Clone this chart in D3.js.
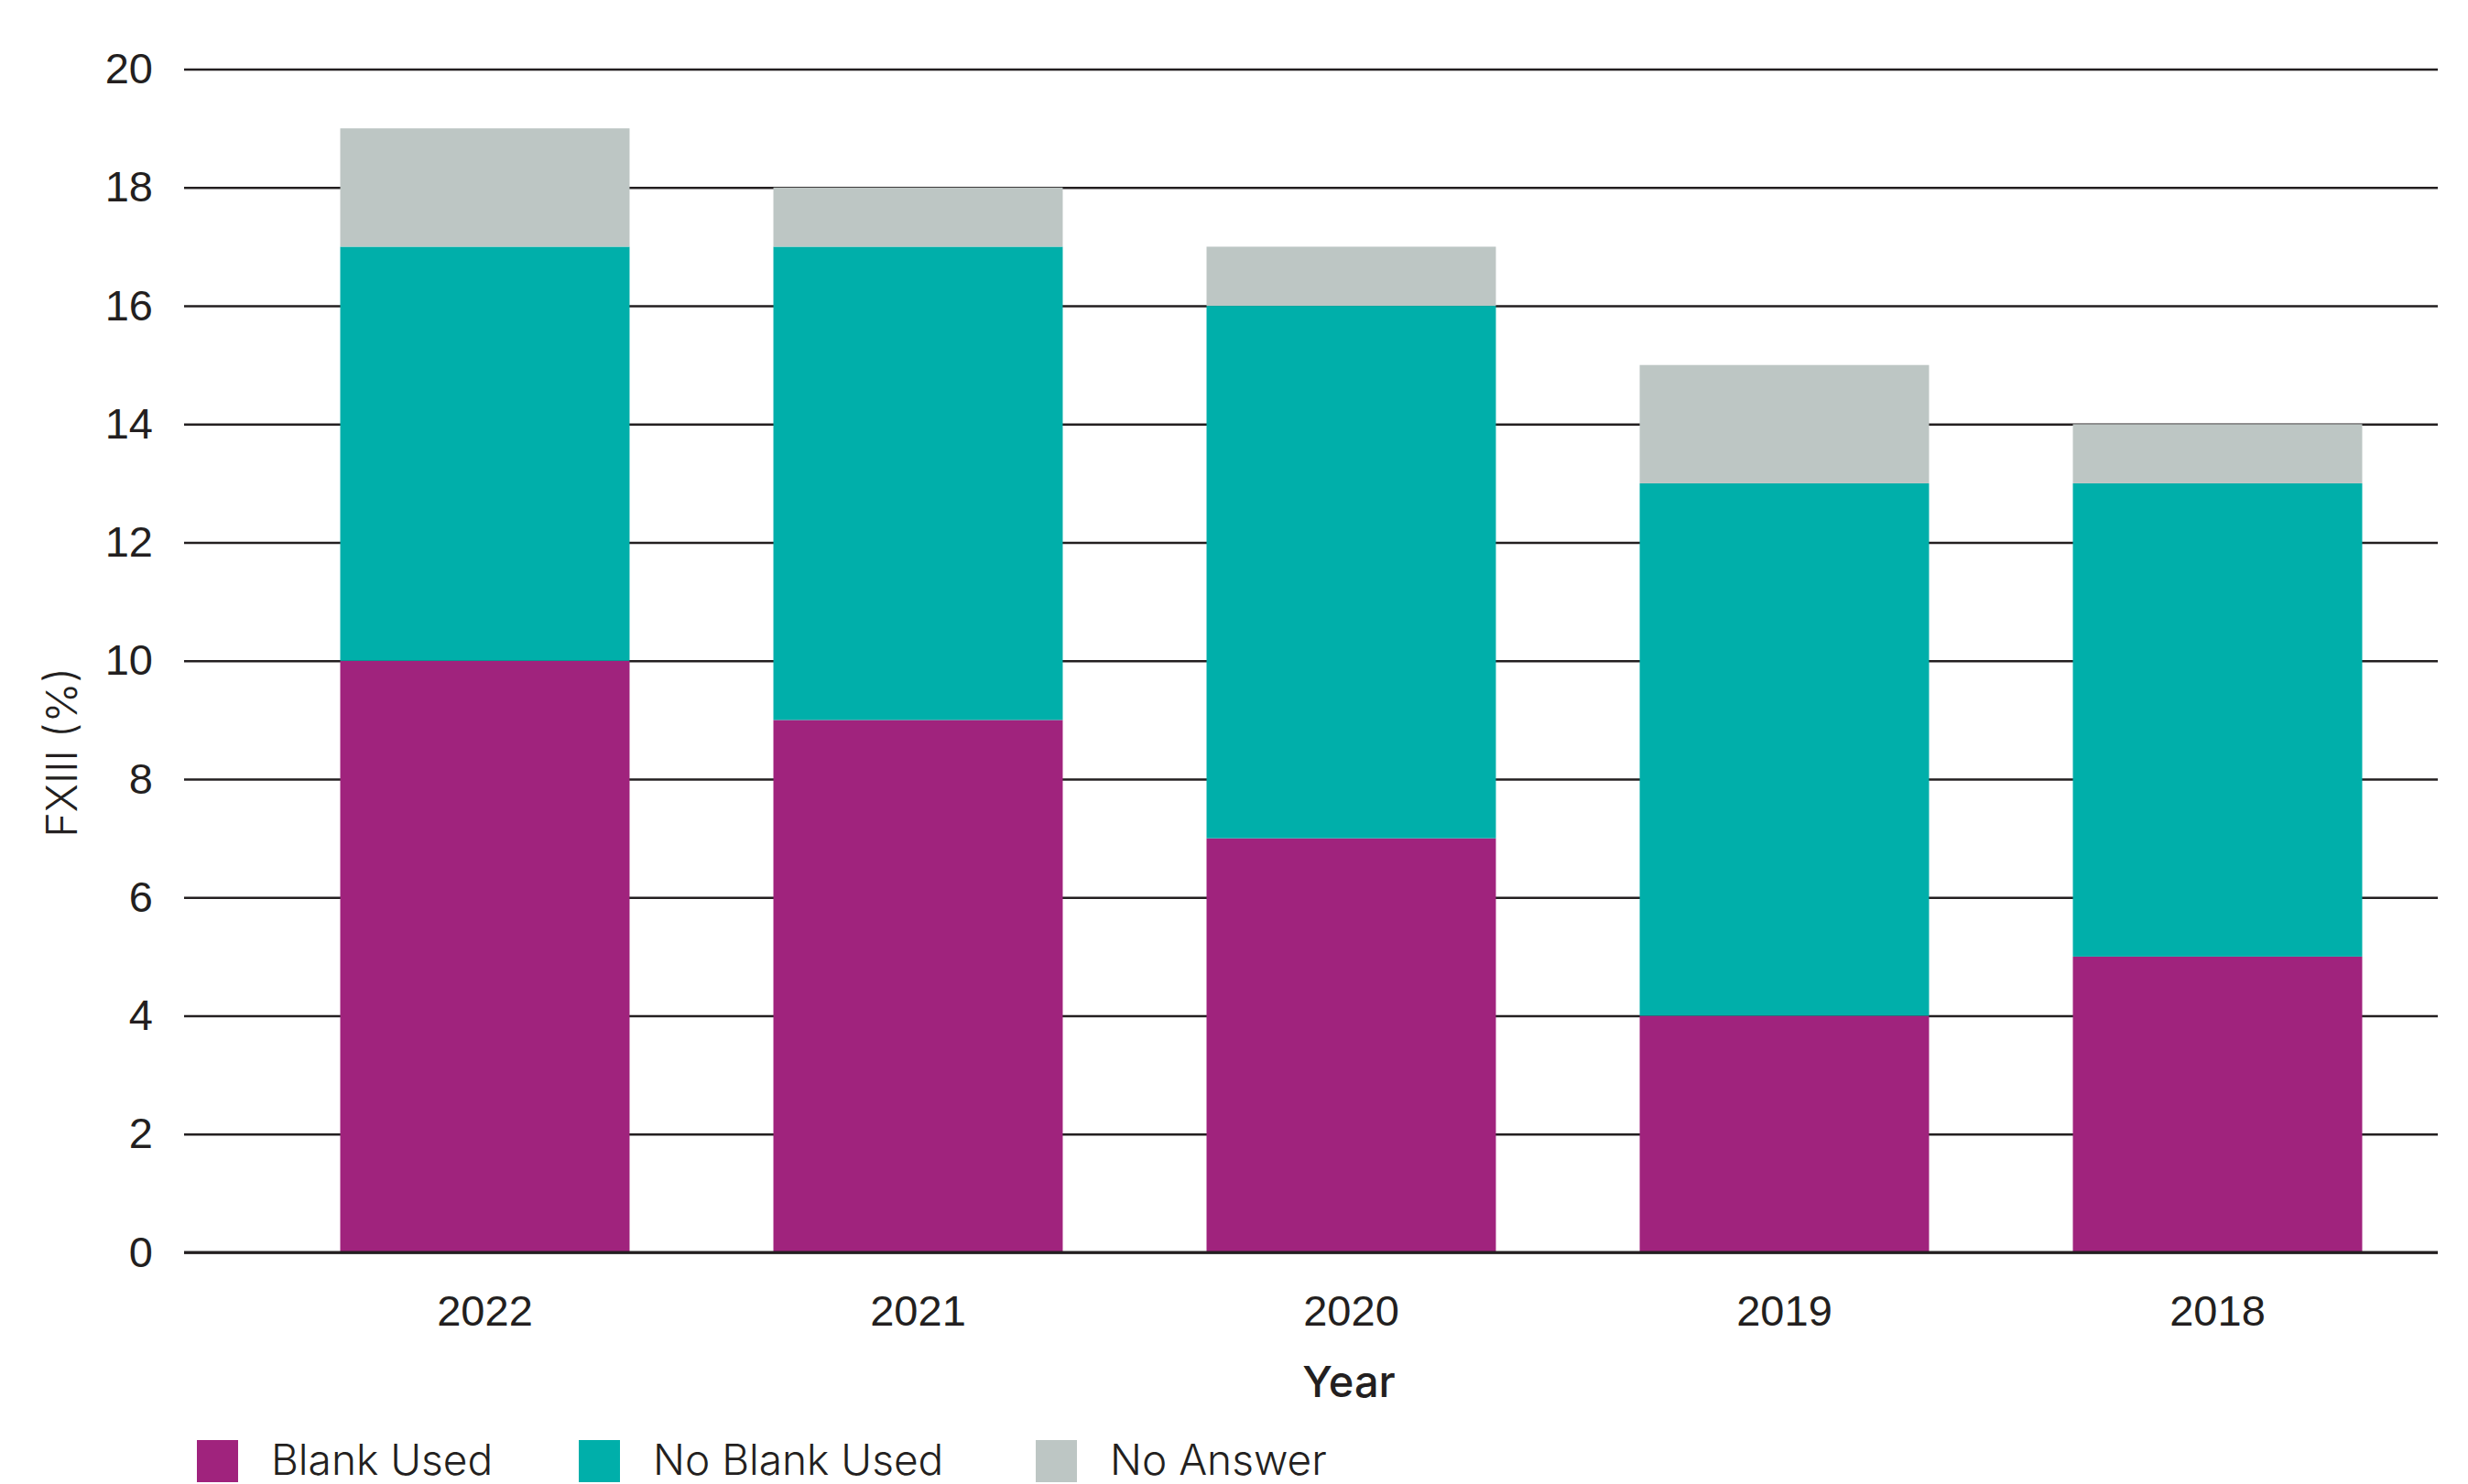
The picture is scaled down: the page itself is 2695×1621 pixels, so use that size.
<!DOCTYPE html>
<html><head><meta charset="utf-8">
<script src="https://cdn.jsdelivr.net/npm/d3@7"></script>
<style>
html,body{margin:0;padding:0;background:#fff;}
svg{display:block;font-family:Inter,"Open Sans",sans-serif;}
</style></head>
<body><svg id="chart" width="2695" height="1621"></svg>
<script>
const years = ["2022","2021","2020","2019","2018"];
const blankUsed = [10, 9, 7, 4, 5];
const noBlankUsed = [7, 8, 9, 9, 8];
const noAnswer = [2, 1, 1, 2, 1];
const seriesNames = ["Blank Used","No Blank Used","No Answer"];
const seriesColors = ["#A0237D","#00AFAA","#BDC6C4"];
const yTicks = [0,2,4,6,8,10,12,14,16,18,20];

const svg = d3.select("#chart");
const gridLeft = 201, gridRight = 2662;
const y = d3.scaleLinear().domain([0,20]).range([1368, 75.6]);
const x = d3.scaleBand().domain(years).range([293, 2658]).paddingInner(0.332).paddingOuter(0.166);
const ink = "#231F20";

// gridlines + y tick labels
const yAxis = d3.axisLeft(y).tickValues(yTicks).tickSize(gridRight - gridLeft).tickPadding(34).tickFormat(d3.format("d"));
const gy = svg.append("g").attr("transform", `translate(${gridRight},0)`).call(yAxis);
gy.select(".domain").remove();
gy.selectAll(".tick line").attr("stroke", ink).attr("stroke-width", 2.5);
gy.selectAll(".tick text").attr("fill", ink).attr("font-size", 47).attr("font-weight", 300);

// stacked bars
const rows = years.map((yr,i)=>({year:yr, "Blank Used":blankUsed[i], "No Blank Used":noBlankUsed[i], "No Answer":noAnswer[i]}));
const stack = d3.stack().keys(seriesNames)(rows);
svg.append("g").selectAll("g").data(stack).join("g")
  .attr("fill", (d,i)=>seriesColors[i])
  .selectAll("rect").data(d=>d).join("rect")
  .attr("x", d=>x(d.data.year))
  .attr("width", x.bandwidth())
  .attr("y", d=>y(d[1]))
  .attr("height", d=>y(d[0]) - y(d[1]));

// baseline
svg.append("line").attr("x1", gridLeft).attr("x2", gridRight).attr("y1", y(0)).attr("y2", y(0))
  .attr("stroke", ink).attr("stroke-width", 3);

// x axis labels
const xAxis = d3.axisBottom(x).tickSize(0).tickPadding(47);
const gx = svg.append("g").attr("transform", `translate(0,${y(0)})`).call(xAxis);
gx.select(".domain").remove();
gx.selectAll(".tick text").attr("fill", ink).attr("font-size", 47).attr("font-weight", 300);

// axis titles
svg.append("text").attr("x", 1473).attr("y", 1526).attr("text-anchor","middle")
  .attr("font-size", 47).attr("font-weight", 500).attr("fill", ink).text("Year");
svg.append("text").attr("transform", "translate(84,822) rotate(-90)").attr("text-anchor","middle")
  .attr("font-size", 47).attr("font-weight", 300).attr("fill", ink).text("FXIII (%)");

// legend
const legendX = [215, 632, 1131];
const lg = svg.append("g").selectAll("g").data(seriesNames).join("g")
  .attr("transform", (d,i)=>`translate(${legendX[i]},1573)`);
lg.append("rect").attr("width", 45).attr("height", 46).attr("fill", (d,i)=>seriesColors[i]);
lg.append("text").attr("x", 81).attr("y", 38).attr("font-size", 46).attr("font-weight", 300)
  .attr("fill", ink).text(d=>d);
</script></body></html>
